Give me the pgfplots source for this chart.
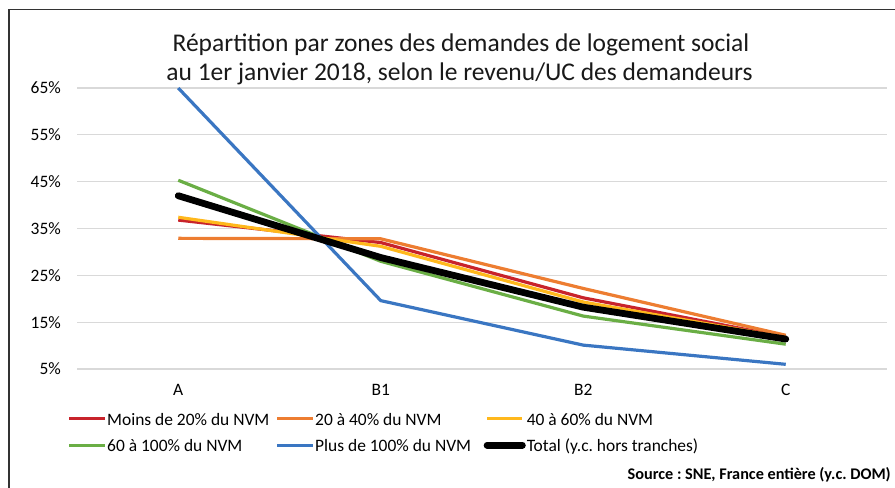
\documentclass[border=0pt]{standalone}
\usepackage{pgfplots}
\pgfplotsset{compat=1.18}
\usepackage{fontspec}
\setmainfont{Carlito}
\frenchspacing
\definecolor{cred}{HTML}{C8232B}
\definecolor{corange}{HTML}{ED7D31}
\definecolor{cyellow}{HTML}{FFB81C}
\definecolor{cgreen}{HTML}{6AAE45}
\definecolor{cblue}{HTML}{3A76C2}
\definecolor{cgrid}{HTML}{D9D9D9}
\newcommand{\legbox}[1]{\makebox[167.5bp][l]{#1}}
\begin{document}
\begin{tikzpicture}
\useasboundingbox (0,0) rectangle (895bp,-488bp);
\draw[line width=1.3bp, black!80] (9bp,-495bp) -- (9bp,-9.3bp) -- (900bp,-9.3bp);
\node[anchor=base, font=\fontsize{25.6}{30}\selectfont, inner sep=0pt, text=black!90] at (461bp,-51.7bp) {Répartition par zones des demandes de logement social};
\node[anchor=base, font=\fontsize{25.6}{30}\selectfont, inner sep=0pt, text=black!90] at (459.5bp,-80bp) {au 1er janvier 2018, selon le revenu/UC des demandeurs};
\begin{axis}[
  at={(77bp,-369bp)}, anchor=south west, scale only axis,
  width=810bp, height=281bp,
  xmin=-0.5, xmax=3.5, ymin=5, ymax=65, clip=false,
  axis line style={draw=none},
  ytick={5,15,25,35,45,55,65},
  xtick={0,1,2,3}, xticklabels={A,B1,B2,C},
  major tick length=0pt,
  ymajorgrids, grid style={line width=1.2bp, color=cgrid},
  yticklabel={\pgfmathprintnumber{\tick}\%},
  /pgf/number format/assume math mode=true,
  ticklabel style={font=\fontsize{17.5}{21}\selectfont, text=black},
  yticklabel style={anchor=east, inner sep=0pt, xshift=-16bp},
  xticklabel style={anchor=base, inner sep=0pt, yshift=-26bp},
  every axis plot/.append style={line width=3.2bp, line join=round},
  legend columns=3,
  legend cell align=left,
  legend image code/.code={\draw[#1] (0bp,6.5bp) -- (35.3bp,6.5bp);},
  legend style={draw=none, fill=none, inner sep=0pt, outer sep=0pt,
    at={(-0.0115,-0.1566)}, anchor=north west,
    column sep=1bp, row sep=10.7bp,
    font=\fontsize{17.5}{21}\selectfont, text=black,
    nodes={inner sep=0pt, anchor=base west, text height=12bp, text depth=4bp}},
]
\addplot[cred] coordinates {(0,36.8) (1,32.0) (2,20.2) (3,11.8)};
\addlegendentry{\legbox{Moins de 20\% du NVM}}
\addplot[corange] coordinates {(0,32.9) (1,32.8) (2,22.2) (3,12.2)};
\addlegendentry{\legbox{20 à 40\% du NVM}}
\addplot[cyellow] coordinates {(0,37.4) (1,31.2) (2,19.3) (3,11.7)};
\addlegendentry{40 à 60\% du NVM}
\addplot[cgreen] coordinates {(0,45.3) (1,28.0) (2,16.3) (3,10.3)};
\addlegendentry{\legbox{60 à 100\% du NVM}}
\addplot[cblue] coordinates {(0,65.0) (1,19.6) (2,10.1) (3,6.0)};
\addlegendentry{\legbox{Plus de 100\% du NVM}}
\addplot[black, line width=6.8bp, line cap=round] coordinates {(0,42.0) (1,28.8) (2,18.2) (3,11.4)};
\addlegendentry{Total (y.c. hors tranches)}
\end{axis}
\node[anchor=base east, inner sep=0pt, font=\bfseries\fontsize{16.3}{19}\selectfont] at (891bp,-479bp) {Source : SNE, France entière (y.c. DOM)};
\end{tikzpicture}
\end{document}
